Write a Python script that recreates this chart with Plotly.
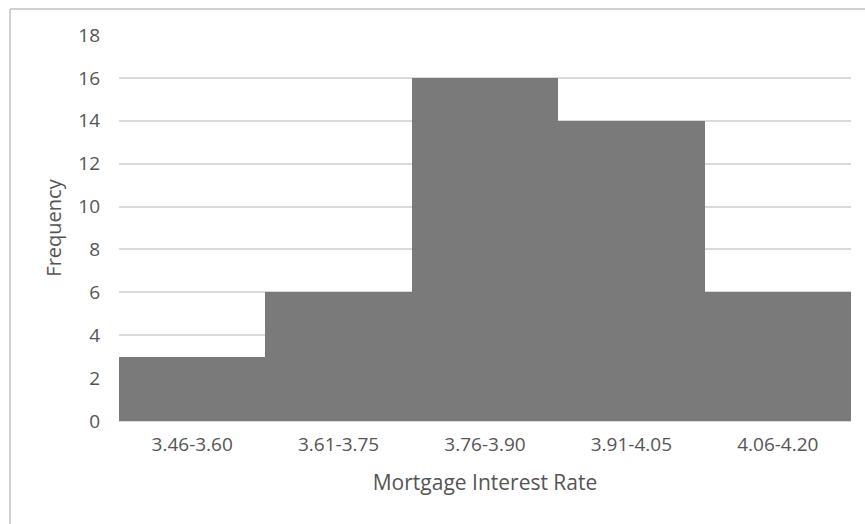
import plotly.graph_objects as go

# Mortgage interest rate classes and their frequencies
rate_classes = ["3.46-3.60", "3.61-3.75", "3.76-3.90", "3.91-4.05", "4.06-4.20"]
frequencies = [3, 6, 16, 14, 6]
y_ticks = [0, 2, 4, 6, 8, 10, 12, 14, 16, 18]

font_family = "Open Sans, DejaVu Sans, sans-serif"
text_color = "#555555"

fig = go.Figure(
    go.Bar(
        x=rate_classes,
        y=frequencies,
        marker=dict(color="#7a7a7a", line=dict(width=0)),
        hoverinfo="x+y",
    )
)

fig.update_layout(
    width=865,
    height=524,
    margin=dict(l=119, r=14, t=35, b=103),
    paper_bgcolor="white",
    plot_bgcolor="white",
    bargap=0,
    showlegend=False,
    font=dict(family=font_family, size=19, color=text_color),
    xaxis=dict(
        title=dict(text="Mortgage Interest Rate", font=dict(size=21, color=text_color), standoff=19),
        showgrid=False,
        showline=False,
        ticks="",
        ticklabelstandoff=10,
        tickfont=dict(size=19, color=text_color),
    ),
    yaxis=dict(
        title=dict(text="Frequency", font=dict(size=20, color=text_color), standoff=11),
        range=[0, 18],
        tickvals=y_ticks,
        showgrid=True,
        gridcolor="#d9d9d9",
        gridwidth=1.5,
        zeroline=True,
        zerolinecolor="#d9d9d9",
        showline=False,
        ticks="",
        ticklabelstandoff=18,
        tickfont=dict(size=19, color=text_color),
    ),
    shapes=[
        # chart frame: left and top edges
        dict(type="line", xref="paper", yref="paper",
             x0=-109 / 732, x1=-109 / 732, y0=1 + 26 / 386, y1=-103 / 386 - 0.01,
             line=dict(color="#d0d0d0", width=2)),
        dict(type="line", xref="paper", yref="paper",
             x0=-109 / 732, x1=1 + 14 / 732, y0=1 + 26 / 386, y1=1 + 26 / 386,
             line=dict(color="#d0d0d0", width=2)),
    ],
)

fig.write_html("out.html")
